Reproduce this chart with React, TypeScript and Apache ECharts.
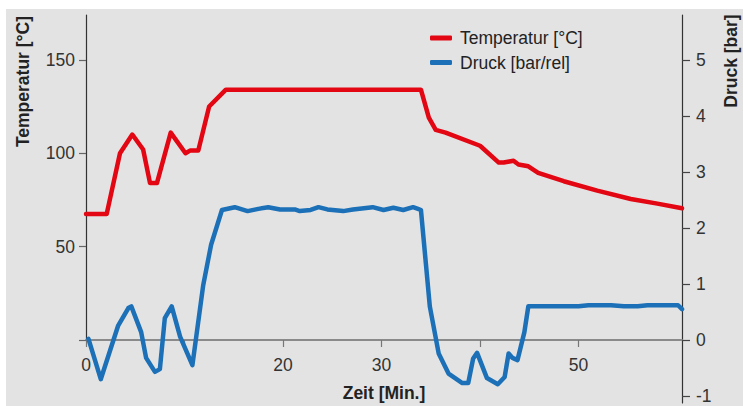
import React, { useEffect, useRef } from "react";
import * as echarts from "echarts";

// Temperature curve (minutes, °C)
const tempMinutes = [0, 2.1, 3.45, 4.7, 5.8, 6.5, 7.2, 8.6, 10.1, 10.6, 11.4, 12.5, 14.2, 34.0, 34.8, 35.5, 36.5, 40.0, 41.9, 42.4, 43.4, 43.9, 44.9, 45.9, 48.5, 51.9, 55.3, 58.0, 60.5];
const tempValues = [67.5, 67.5, 100, 110, 102, 84, 84, 111, 100, 101.5, 101.5, 125, 134, 134, 119, 112.5, 111, 104, 95, 95, 96, 94, 93, 89.5, 85, 80, 75.5, 73, 70.5];

// Pressure curve (minutes, bar rel)
const pressureMinutes = [0.25, 1.5, 3.25, 4.3, 4.6, 5.6, 6.1, 7.0, 7.5, 8.0, 8.7, 9.55, 10.8, 11.9, 12.7, 13.8, 15.1, 16.4, 17.5, 18.5, 19.7, 21.2, 21.7, 22.8, 23.6, 24.5, 26.1, 27.1, 29.1, 30.2, 31.2, 32.2, 33.2, 33.7, 34.0, 34.9, 35.8, 36.8, 38.2, 38.8, 39.3, 39.7, 40.7, 41.8, 42.5, 42.9, 43.3, 43.8, 44.5, 44.9, 50.0, 51.0, 53.3, 54.6, 56.0, 57.0, 60.1, 60.5];
const pressureValues = [0.02, -0.7, 0.25, 0.57, 0.6, 0.14, -0.32, -0.57, -0.52, 0.39, 0.6, 0.06, -0.45, 0.98, 1.7, 2.32, 2.37, 2.30, 2.34, 2.37, 2.33, 2.33, 2.30, 2.32, 2.37, 2.33, 2.30, 2.33, 2.37, 2.32, 2.36, 2.32, 2.37, 2.34, 2.32, 0.6, -0.24, -0.6, -0.77, -0.77, -0.33, -0.23, -0.68, -0.79, -0.66, -0.24, -0.32, -0.36, 0.14, 0.6, 0.6, 0.62, 0.62, 0.6, 0.6, 0.62, 0.62, 0.55];

// Ticks and labels
const xTickValues = [0, 10, 20, 30, 40, 50];
const xLabelValues = [0, 20, 30, 50];
const tempTickValues = [0, 50, 100, 150];
const tempLabelValues = [50, 100, 150];
const pressureTickValues = [-1, 0, 1, 2, 3, 4, 5];

const seriesNames = ["Temperatur [°C]", "Druck [bar/rel]"];
const xAxisName = "Zeit [Min.]";
const tempAxisName = "Temperatur [°C]";
const pressureAxisName = "Druck [bar]";

const FONT = "'Liberation Sans', Arial, Helvetica, sans-serif";
const RED = "#e30613";
const BLUE = "#1b70b7";
const FS = 17.5;

export default function App() {
  const ref = useRef<HTMLDivElement>(null);

  useEffect(() => {
    if (!ref.current) return;
    const chart = echarts.init(ref.current, undefined, { renderer: "svg" });
    const labelStyle = { fontSize: FS, color: "#333", fontFamily: FONT };
    chart.setOption({
      animation: false,
      backgroundColor: "#e3e3e3",
      textStyle: { fontFamily: FONT },
      grid: [
        { left: 80, right: 61, top: 6, bottom: 3, containLabel: false, outerBoundsMode: "none" },
        { left: 80, right: 61, top: 6, bottom: 66, containLabel: false, outerBoundsMode: "none" },
      ],
      legend: {
        orient: "vertical",
        left: 419,
        top: 15,
        itemWidth: 22,
        itemHeight: 5,
        itemGap: 6.5,
        icon: "roundRect",
        data: seriesNames,
        textStyle: { fontSize: FS, color: "#222", fontFamily: FONT, padding: [0, 0, 0, 3] },
      },
      xAxis: [
        { type: "value", gridIndex: 0, min: 0, max: 60.5, show: false },
        {
          type: "value",
          gridIndex: 1,
          min: 0,
          max: 60.5,
          interval: 10,
          axisLine: { show: true, onZero: false, lineStyle: { color: "#8a8a8a", width: 2 } },
          axisTick: { show: true, length: 7, customValues: xTickValues, lineStyle: { color: "#777", width: 1.2 } },
          axisLabel: { ...labelStyle, customValues: xLabelValues, margin: 16 },
          splitLine: { show: false },
          name: xAxisName,
          nameLocation: "middle",
          nameGap: 44,
          nameTextStyle: { fontWeight: "bold", fontSize: FS, color: "#222", fontFamily: FONT },
        },
      ],
      yAxis: [
        {
          type: "value",
          gridIndex: 0,
          position: "right",
          min: -1.125,
          max: 5.8,
          axisLine: { show: true, onZero: false, lineStyle: { color: "#333", width: 1.2 } },
          axisTick: { show: true, length: 8, customValues: pressureTickValues, lineStyle: { color: "#444", width: 1.2 } },
          axisLabel: { ...labelStyle, customValues: pressureTickValues, margin: 14 },
          splitLine: { show: false },
        },
        {
          type: "value",
          gridIndex: 1,
          position: "left",
          min: 0,
          max: 174,
          axisLine: { show: true, onZero: false, lineStyle: { color: "#333", width: 1.2 } },
          axisTick: { show: true, length: 7, customValues: tempTickValues, lineStyle: { color: "#666", width: 1.2 } },
          axisLabel: { ...labelStyle, customValues: tempLabelValues, margin: 11 },
          splitLine: { show: false },
        },
      ],
      graphic: [
        {
          type: "text",
          x: 17,
          y: 72.5,
          rotation: Math.PI / 2,
          style: { text: tempAxisName, fontSize: FS, fontWeight: "bold", fontFamily: FONT, fill: "#222", align: "center", verticalAlign: "middle" },
        },
        {
          type: "text",
          x: 725,
          y: 52,
          rotation: Math.PI / 2,
          style: { text: pressureAxisName, fontSize: FS, fontWeight: "bold", fontFamily: FONT, fill: "#222", align: "center", verticalAlign: "middle" },
        },
      ],
      series: [
        {
          name: seriesNames[0],
          type: "line",
          xAxisIndex: 1,
          yAxisIndex: 1,
          data: tempMinutes.map((t, i) => [t, tempValues[i]]),
          symbol: "none",
          showSymbol: false,
          itemStyle: { color: RED },
          lineStyle: { color: RED, width: 4.5, cap: "round", join: "round" },
        },
        {
          name: seriesNames[1],
          type: "line",
          xAxisIndex: 0,
          yAxisIndex: 0,
          data: pressureMinutes.map((t, i) => [t, pressureValues[i]]),
          symbol: "none",
          showSymbol: false,
          itemStyle: { color: BLUE },
          lineStyle: { color: BLUE, width: 4.5, cap: "round", join: "round" },
        },
      ],
    });
    return () => chart.dispose();
  }, []);

  return <div ref={ref} style={{ position: "fixed", left: 6, top: 9, width: 737, height: 397 }} />;
}
